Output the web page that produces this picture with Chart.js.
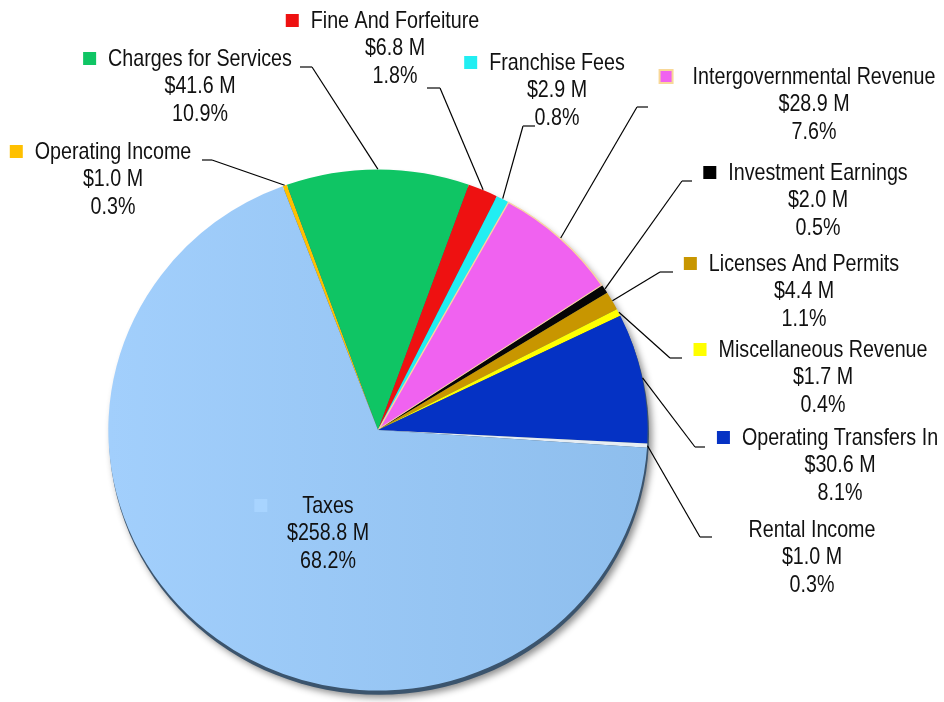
<!DOCTYPE html>
<html>
<head>
<meta charset="utf-8">
<script src="https://cdn.jsdelivr.net/npm/chart.js@4/dist/chart.umd.min.js"></script>
<style>
  html, body { margin: 0; padding: 0; background: #ffffff; }
  #wrap { width: 944px; height: 702px; }
</style>
</head>
<body>
<div id="wrap"><canvas id="c" width="944" height="702"></canvas></div>
<script>
// ---- data ----
const categories = ['Operating Income', 'Charges for Services', 'Fine And Forfeiture', 'Franchise Fees',
  'Intergovernmental Revenue', 'Investment Earnings', 'Licenses And Permits', 'Miscellaneous Revenue',
  'Operating Transfers In', 'Rental Income', 'Taxes'];
const amountsM = [1.0, 41.6, 6.8, 2.9, 28.9, 2.0, 4.4, 1.7, 30.6, 1.0, 258.8];
const percentLabels = ['0.3%', '10.9%', '1.8%', '0.8%', '7.6%', '0.5%', '1.1%', '0.4%', '8.1%', '0.3%', '68.2%'];

// ---- styles ----
const sliceColors = ['#ffc000', '#0fc564', '#ee1111', '#22eef2', '#f062f0', '#050505',
  '#c89600', '#ffff00', '#0532c4', '#e6edf3', '#9ccaf6'];
const squareColors = ['#ffc000', '#0fc564', '#ee1111', '#22eef2', '#f062f0', '#000000',
  '#c89600', '#ffff00', '#0532c4', null, '#a8d4ff'];

// ---- label layout: [text centre x, first line y, elbow x, elbow y, horizontal end x, square gap] ----
const labelLayout = [
  [113, 152, 212, 160, 202, 12],
  [200, 59, 312, 67, 300, 12],
  [395, 21, 440, 88, 427, 12],
  [557, 63, 523, 126, 535, 12],
  [814, 77, 637, 107, 648, 20],
  [818, 173, 682, 181, 692, 12],
  [804, 264, 660, 272, 673, 12],
  [823, 350, 670, 358, 682, 12],
  [840, 438, 695, 447, 705, 12],
  [812, 530, 700, 537, 712, 12],
  [328, 506, null, null, null, 35]
];
const LINE_H = 27.5;
const SY = 0.966; // vertical squash of the tilted pie

const ellipsePlugin = {
  id: 'ellipse',
  beforeDatasetsDraw(chart) {
    const arc = chart.getDatasetMeta(0).data[0];
    if (!arc) return;
    const ctx = chart.ctx;
    const cx = arc.x, cy = arc.y, r = arc.outerRadius;
    ctx.save();
    ctx.translate(cx, cy);
    ctx.scale(1, SY);
    ctx.translate(-cx, -cy);
    // rim + drop shadow
    ctx.save();
    ctx.shadowColor = 'rgba(0,0,0,0.45)';
    ctx.shadowBlur = 7;
    ctx.shadowOffsetX = 3;
    ctx.shadowOffsetY = 3;
    ctx.fillStyle = '#3b546d';
    ctx.beginPath();
    ctx.arc(cx + 1, cy + 4, r, 0, Math.PI * 2);
    ctx.fill();
    ctx.restore();
  },
  afterDatasetsDraw(chart) {
    chart.ctx.restore();
  }
};

const labelPlugin = {
  id: 'labels',
  afterDraw(chart) {
    const ctx = chart.ctx;
    const meta = chart.getDatasetMeta(0);
    ctx.save();
    const fontSize = 24;
    ctx.font = fontSize + 'px "Liberation Sans Narrow", "Arial Narrow", sans-serif';
    const wNarrow = ctx.measureText('Intergovernmental Revenue').width;
    ctx.font = fontSize + 'px "Liberation Sans", Arial, sans-serif';
    const wWide = ctx.measureText('Intergovernmental Revenue').width;
    let sx = 1;
    if (wNarrow / wWide > 0.95) { sx = 0.82; }
    else { ctx.font = fontSize + 'px "Liberation Sans Narrow", "Arial Narrow", sans-serif'; }

    meta.data.forEach((arc, i) => {
      const L = labelLayout[i];
      // leader line
      if (L[2] !== null) {
        const mid = (arc.startAngle + arc.endAngle) / 2;
        const ax = arc.x + Math.cos(mid) * arc.outerRadius;
        const ay = arc.y + SY * Math.sin(mid) * arc.outerRadius;
        ctx.strokeStyle = '#000000';
        ctx.lineWidth = 1.2;
        ctx.beginPath();
        ctx.moveTo(ax, ay);
        ctx.lineTo(L[2], L[3]);
        ctx.stroke();
        ctx.strokeStyle = '#444444';
        ctx.lineWidth = 1.6;
        ctx.beginPath();
        ctx.moveTo(L[2], L[3]);
        ctx.lineTo(L[4], L[3]);
        ctx.stroke();
      }
      const lines = [categories[i], '$' + amountsM[i].toFixed(1) + ' M', percentLabels[i]];
      ctx.fillStyle = '#111111';
      ctx.textBaseline = 'middle';
      ctx.textAlign = 'center';
      lines.forEach((t, k) => {
        ctx.save();
        ctx.translate(L[0], L[1] + k * LINE_H);
        ctx.scale(sx, 1);
        ctx.fillText(t, 0, 0);
        ctx.restore();
      });
      // colour square
      if (squareColors[i]) {
        const w1 = ctx.measureText(categories[i]).width * sx;
        const sqX = L[0] - w1 / 2 - L[5] - 13;
        const sqY = L[1] - 7;
        ctx.fillStyle = squareColors[i];
        ctx.fillRect(sqX, sqY, 13, 13);
        if (i === 4) {
          ctx.strokeStyle = '#f8d898';
          ctx.lineWidth = 2;
          ctx.strokeRect(sqX, sqY, 13, 13);
        }
      }
    });
    ctx.restore();
  }
};

function sliceFill(context) {
  const i = context.dataIndex;
  const chart = context.chart;
  const area = chart.chartArea;
  if (i === 10 && area) {
    const g = chart.ctx.createLinearGradient(area.left, 0, area.right, 0);
    g.addColorStop(0, '#a2cffc');
    g.addColorStop(1, '#8ebeed');
    return g;
  }
  return sliceColors[i];
}

new Chart(document.getElementById('c'), {
  type: 'pie',
  data: {
    labels: categories,
    datasets: [{
      data: amountsM,
      backgroundColor: sliceFill,
      borderWidth: amountsM.map((v, i) => i === 4 ? 1 : 0),
      borderColor: amountsM.map((v, i) => i === 4 ? '#f8d8a0' : 'rgba(0,0,0,0)'),
      borderAlign: 'inner',
      hoverOffset: 0,
      offset: 0
    }]
  },
  options: {
    responsive: false,
    animation: false,
    events: [],
    rotation: -20.7,
    layout: { padding: { left: 108, right: 296, top: 160, bottom: 2 } },
    plugins: {
      legend: { display: false },
      tooltip: { enabled: false }
    }
  },
  plugins: [ellipsePlugin, labelPlugin]
});
</script>
</body>
</html>
